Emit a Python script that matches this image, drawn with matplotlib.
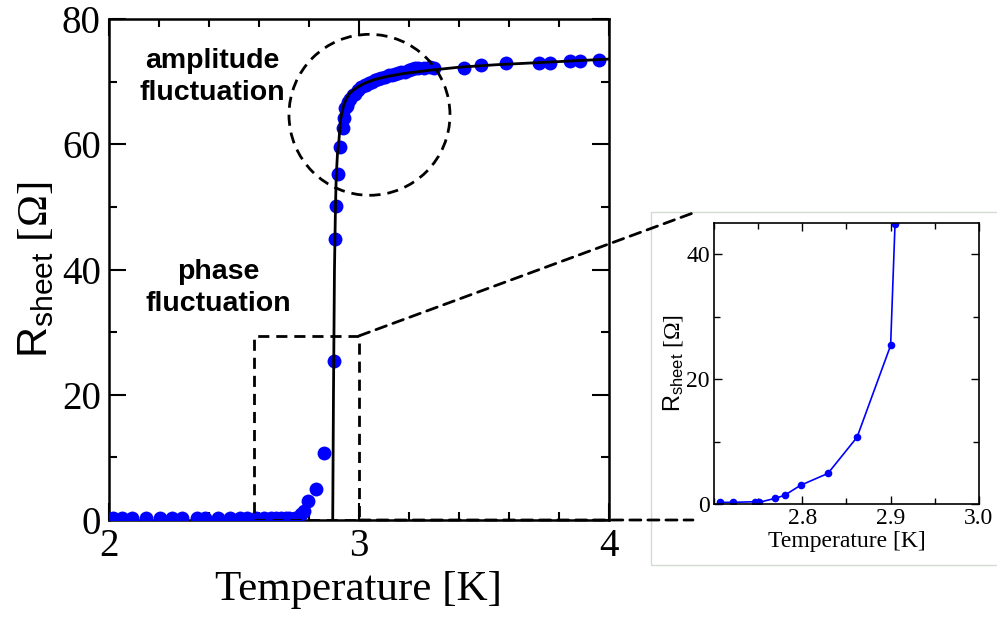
import numpy as np
import matplotlib
matplotlib.use("Agg")
import matplotlib.pyplot as plt
from matplotlib.patches import Ellipse, Rectangle, ConnectionPatch
from matplotlib.ticker import MultipleLocator

plt.rcParams['font.family'] = ['Liberation Serif', 'DejaVu Serif']
plt.rcParams['mathtext.fontset'] = 'custom'
plt.rcParams['mathtext.sf'] = 'Liberation Sans'
plt.rcParams['mathtext.rm'] = 'Liberation Serif'

# measured sheet resistance (main panel)
temp = [2.017, 2.051, 2.091, 2.147, 2.204, 2.251, 2.291, 2.351, 2.384, 2.437,
        2.484, 2.524, 2.551, 2.59, 2.62, 2.65, 2.67, 2.69, 2.707, 2.722,
        2.746, 2.751, 2.769, 2.780, 2.798, 2.829, 2.862, 2.900, 2.904, 2.908,
        2.917, 2.924, 2.937, 2.94, 2.944, 2.951, 2.957, 2.965, 2.977, 2.984,
        2.997, 3.01, 3.024, 3.03, 3.04, 3.051, 3.065, 3.077, 3.09, 3.104,
        3.12, 3.131, 3.145, 3.157, 3.17, 3.184, 3.2, 3.211, 3.225, 3.237,
        3.26, 3.284, 3.30, 3.421, 3.49, 3.59, 3.72, 3.764, 3.844, 3.884, 3.96]
rsheet = [0.3, 0.3, 0.3, 0.3, 0.3, 0.3, 0.3, 0.3, 0.3, 0.3,
          0.3, 0.3, 0.3, 0.3, 0.3, 0.3, 0.3, 0.3, 0.27, 0.27,
          0.37, 0.27, 0.9, 1.4, 3.0, 4.9, 10.7, 25.4, 44.9, 50.2,
          55.3, 59.6, 62.6, 64.2, 65.8, 66.1, 66.8, 67.3, 67.9, 68.1,
          68.7, 69.1, 69.5, 69.5, 69.8, 70.0, 70.2, 70.4, 70.6, 70.8,
          71.0, 71.1, 71.2, 71.3, 71.5, 71.6, 71.8, 72.0, 72.1, 72.2,
          72.2, 72.3, 72.1, 72.2, 72.7, 72.9, 73.05, 73.05, 73.3, 73.3, 73.5]

# fit curve
fit_t = [2.895, 2.898, 2.902, 2.906, 2.909, 2.914, 2.920, 2.926, 2.933, 2.940,
         2.950, 2.962, 2.975, 2.99, 3.02, 3.06, 3.11, 3.18, 3.28, 3.40,
         3.55, 3.70, 3.85, 4.00]
fit_r = [0, 20, 40, 50, 54.8, 58.5, 60.7, 63.9, 65.3, 66.4,
         67.3, 68.1, 68.6, 69.0, 69.7, 70.3, 70.8, 71.3, 71.8, 72.3,
         72.7, 73.0, 73.3, 73.6]

# zoomed data (inset)
ins_t = [2.707, 2.722, 2.746, 2.751, 2.769, 2.780, 2.798, 2.829, 2.862, 2.900, 2.905, 2.908]
ins_r = [0.27, 0.27, 0.37, 0.27, 0.9, 1.4, 3.0, 4.9, 10.7, 25.4, 44.9, 50.2]

fig = plt.figure(figsize=(9.97, 6.17), dpi=100)
ax = fig.add_axes([0.1093, 0.1572, 0.5015, 0.812])

ax.plot(temp, rsheet, 'o', color='#0000ff', ms=10, mec='none', zorder=3)
ax.plot(fit_t, fit_r, '-', color='black', lw=2, zorder=4)

ax.set_xlim(2, 4)
ax.set_ylim(0, 80)
ax.xaxis.set_major_locator(MultipleLocator(1))
ax.xaxis.set_minor_locator(MultipleLocator(0.2))
ax.yaxis.set_major_locator(MultipleLocator(20))
ax.yaxis.set_minor_locator(MultipleLocator(10))
ax.tick_params(which='both', direction='in', top=True, right=True, width=1.5, labelsize=28)
ax.tick_params(which='major', length=12, pad=6)
ax.tick_params(which='minor', length=6)
for s in ax.spines.values():
    s.set_linewidth(1.8)
ax.set_xlabel('Temperature [K]', fontsize=31, labelpad=4)
ax.set_ylabel(r'$\mathsf{R_{sheet}}$ [Ω]', fontsize=31, labelpad=4)

ax.text(2.412, 70.8, 'amplitude\nfluctuation', family='Liberation Sans', weight='bold',
        fontsize=20.5, ha='center', va='center', linespacing=1.3)
ax.text(2.436, 37.0, 'phase\nfluctuation', family='Liberation Sans', weight='bold',
        fontsize=20.5, ha='center', va='center', linespacing=1.3)

# dashed circle around the amplitude regime, dashed box around the tail
ax.add_patch(Ellipse((3.042, 64.7), 0.644, 25.7, fill=False, ls=(0, (4, 2.5)), lw=2, color='black', zorder=5))
ax.add_patch(Rectangle((2.58, 0), 0.42, 29.4, fill=False, ls=(0, (4, 2.5)), lw=2, color='black', zorder=5))

# inset frame
fig.add_artist(Rectangle((0.653, 0.0843), 0.36, 0.572, transform=fig.transFigure,
                         fill=False, ec='#d3dcd3', lw=1))

for yy, fy in [(29.4, 1 - 213 / 617), (0, 1 - 520 / 617)]:
    con = ConnectionPatch(xyA=(3.0, yy), coordsA=ax.transData,
                          xyB=(693 / 997, fy), coordsB=fig.transFigure,
                          ls=(0, (4, 2.5)), lw=2, color='black')
    fig.add_artist(con)

axi = fig.add_axes([0.7161, 0.1831, 0.2658, 0.4554])
axi.plot(ins_t, ins_r, '-o', color='#0000ff', ms=5.5, lw=1.2, mec='none')
axi.set_xlim(2.7, 3.0)
axi.set_ylim(0, 45)
axi.set_xticks([2.8, 2.9, 3.0])
axi.xaxis.set_minor_locator(MultipleLocator(0.05))
axi.yaxis.set_major_locator(MultipleLocator(20))
axi.yaxis.set_minor_locator(MultipleLocator(10))
axi.tick_params(which='both', direction='in', top=True, right=True, width=1, labelsize=17)
axi.tick_params(which='major', length=6, pad=3)
axi.tick_params(which='minor', length=4)
for s in axi.spines.values():
    s.set_linewidth(1.2)
axi.set_xlabel('Temperature [K]', fontsize=17, labelpad=1)
axi.set_ylabel(r'$\mathsf{R_{sheet}}$ [Ω]', fontsize=17, labelpad=0)

fig.savefig('out.png', dpi=100)
